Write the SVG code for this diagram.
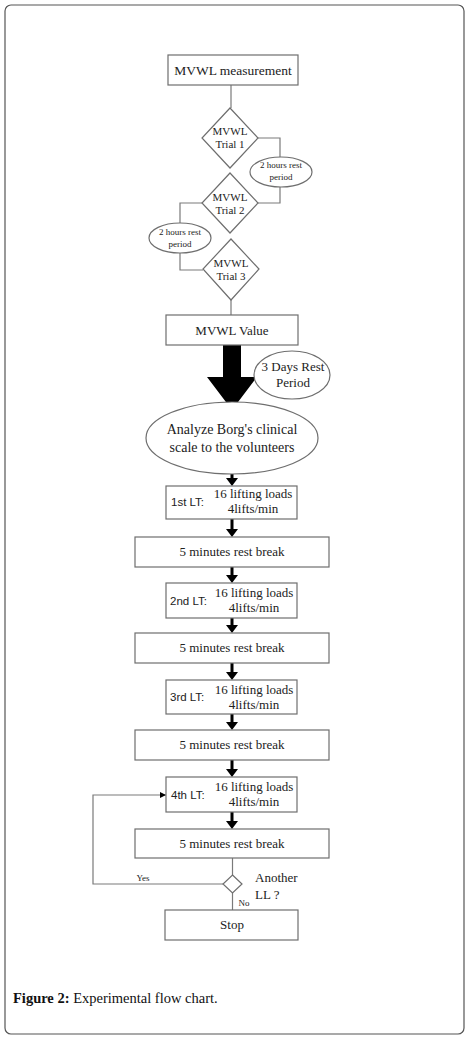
<svg xmlns="http://www.w3.org/2000/svg" width="470" height="1040" viewBox="0 0 470 1040">
<defs>
<style>
.box{fill:#fff;stroke:#6e6e6e;stroke-width:1.2}
.ln{fill:none;stroke:#7a7a7a;stroke-width:1.2}
.t{font-family:"Liberation Serif","Times New Roman",serif;fill:#222;text-anchor:middle}
.st{text-anchor:start}
.s{font-family:"Liberation Sans",Arial,sans-serif;fill:#222}
.ah{fill:#000}
</style>
<marker id="ah2" viewBox="0 0 10 10" refX="10" refY="5" markerWidth="7" markerHeight="6" orient="auto" markerUnits="userSpaceOnUse">
<path d="M0,0 L10,5 L0,10 Z" fill="#000"/>
</marker>
</defs>
<rect width="470" height="1040" fill="#fff"/>
<rect x="5" y="5" width="459" height="1029" rx="6" fill="none" stroke="#555" stroke-width="1.2"/>

<g id="connectors">
<line class="ln" x1="231" y1="85" x2="231" y2="108"/>
<polyline class="ln" points="258,138 280,138 280,157"/>
<polyline class="ln" points="280,187 280,203 258,203"/>
<polyline class="ln" points="203,203 180,203 180,223"/>
<polyline class="ln" points="180,253 180,270 203,270"/>
<line class="ln" x1="231" y1="300" x2="231" y2="315"/>
<polygon class="ah" points="223,345 241,345 241,377 257,377 232,410 207,377 223,377"/>
<path class="ah" d="M230.5,474 h3 v4 h4.5 l-6,8 l-6,-8 h4.5 z"/>
<path class="ah" d="M230.5,519 h3 v10 h4.5 l-6,8 l-6,-8 h4.5 z"/>
<path class="ah" d="M230.5,567 h3 v8 h4.5 l-6,8 l-6,-8 h4.5 z"/>
<path class="ah" d="M230.5,618 h3 v7 h4.5 l-6,8 l-6,-8 h4.5 z"/>
<path class="ah" d="M230.5,663 h3 v9 h4.5 l-6,8 l-6,-8 h4.5 z"/>
<path class="ah" d="M230.5,714 h3 v8 h4.5 l-6,8 l-6,-8 h4.5 z"/>
<path class="ah" d="M230.5,760 h3 v9 h4.5 l-6,8 l-6,-8 h4.5 z"/>
<path class="ah" d="M230.5,812 h3 v9 h4.5 l-6,8 l-6,-8 h4.5 z"/>
<line class="ln" x1="232.5" y1="858" x2="232.5" y2="875"/>
<polyline class="ln" points="223,884 93,884 93,795 166,795" marker-end="url(#ah2)"/>
<line class="ln" x1="232.5" y1="893" x2="232.5" y2="910"/>
<text class="t" x="143" y="881" font-size="9">Yes</text>
<text class="t" x="244" y="906" font-size="9">No</text>
</g>

<g id="n-mvwl-meas">
<rect class="box" x="168" y="55" width="130" height="30"/>
<text class="t" x="233" y="75" font-size="13.5">MVWL measurement</text>
</g>
<g id="n-trial1">
<polygon class="box" points="230,108 258,138 230,168 202,138"/>
<text class="t" x="230" y="135" font-size="11">MVWL</text>
<text class="t" x="230" y="148" font-size="11">Trial 1</text>
</g>
<g id="n-rest1">
<ellipse class="box" cx="281" cy="172" rx="31" ry="15"/>
<text class="t" x="281" y="168" font-size="9">2 hours rest</text>
<text class="t" x="281" y="180" font-size="9">period</text>
</g>
<g id="n-trial2">
<polygon class="box" points="230,173 258,203 230,233 202,203"/>
<text class="t" x="230" y="201" font-size="11">MVWL</text>
<text class="t" x="230" y="214" font-size="11">Trial 2</text>
</g>
<g id="n-rest2">
<ellipse class="box" cx="180" cy="238" rx="31" ry="15"/>
<text class="t" x="180" y="235" font-size="9">2 hours rest</text>
<text class="t" x="180" y="247" font-size="9">period</text>
</g>
<g id="n-trial3">
<polygon class="box" points="231,239 259,269 231,300 203,269"/>
<text class="t" x="231" y="267" font-size="11">MVWL</text>
<text class="t" x="231" y="280" font-size="11">Trial 3</text>
</g>
<g id="n-value">
<rect class="box" x="166" y="315" width="132" height="30"/>
<text class="t" x="232" y="335" font-size="13">MVWL Value</text>
</g>
<g id="n-3days">
<ellipse class="box" cx="292" cy="375" rx="38" ry="24"/>
<text class="t" x="293" y="371" font-size="13">3 Days Rest</text>
<text class="t" x="293" y="387" font-size="13">Period</text>
</g>
<g id="n-borg">
<ellipse class="box" cx="232" cy="438" rx="86" ry="36"/>
<text class="t" x="232" y="434" font-size="14">Analyze Borg's clinical</text>
<text class="t" x="232" y="452" font-size="14">scale to the volunteers</text>
</g>

<g id="n-lt1">
<rect class="box" x="166" y="486" width="131" height="33"/>
<text class="s" x="171" y="506" font-size="11.5">1st LT:</text>
<text class="t" x="253" y="498" font-size="13">16 lifting loads</text>
<text class="t" x="253" y="513" font-size="13">4lifts/min</text>
</g>
<g id="n-break1">
<rect class="box" x="135" y="537" width="194" height="30"/>
<text class="t" x="232" y="556" font-size="13">5 minutes rest break</text>
</g>
<g id="n-lt2">
<rect class="box" x="166" y="583" width="131" height="35"/>
<text class="s" x="170" y="605" font-size="11.5">2nd LT:</text>
<text class="t" x="254" y="597" font-size="13">16 lifting loads</text>
<text class="t" x="254" y="612" font-size="13">4lifts/min</text>
</g>
<g id="n-break2">
<rect class="box" x="135" y="633" width="194" height="30"/>
<text class="t" x="232" y="652" font-size="13">5 minutes rest break</text>
</g>
<g id="n-lt3">
<rect class="box" x="166" y="680" width="131" height="34"/>
<text class="s" x="170" y="701" font-size="11.5">3rd LT:</text>
<text class="t" x="254" y="694" font-size="13">16 lifting loads</text>
<text class="t" x="254" y="709" font-size="13">4lifts/min</text>
</g>
<g id="n-break3">
<rect class="box" x="135" y="730" width="194" height="30"/>
<text class="t" x="232" y="749" font-size="13">5 minutes rest break</text>
</g>
<g id="n-lt4">
<rect class="box" x="166" y="777" width="131" height="35"/>
<text class="s" x="171" y="799" font-size="11.5">4th LT:</text>
<text class="t" x="254" y="791" font-size="13">16 lifting loads</text>
<text class="t" x="254" y="806" font-size="13">4lifts/min</text>
</g>
<g id="n-break4">
<rect class="box" x="135" y="829" width="194" height="29"/>
<text class="t" x="232" y="848" font-size="13">5 minutes rest break</text>
</g>
<g id="n-decision">
<polygon class="box" points="232.5,875 242,884 232.5,893 223,884"/>
<text class="t st" x="255" y="882" font-size="13">Another</text>
<text class="t st" x="255" y="899" font-size="13">LL ?</text>
</g>
<g id="n-stop">
<rect class="box" x="165" y="910" width="133" height="30"/>
<text class="t" x="232" y="929" font-size="13">Stop</text>
</g>

<text x="13" y="1003" font-family="Liberation Serif,'Times New Roman',serif" font-size="14.5" fill="#111"><tspan font-weight="bold">Figure 2:</tspan> Experimental flow chart.</text>
</svg>
